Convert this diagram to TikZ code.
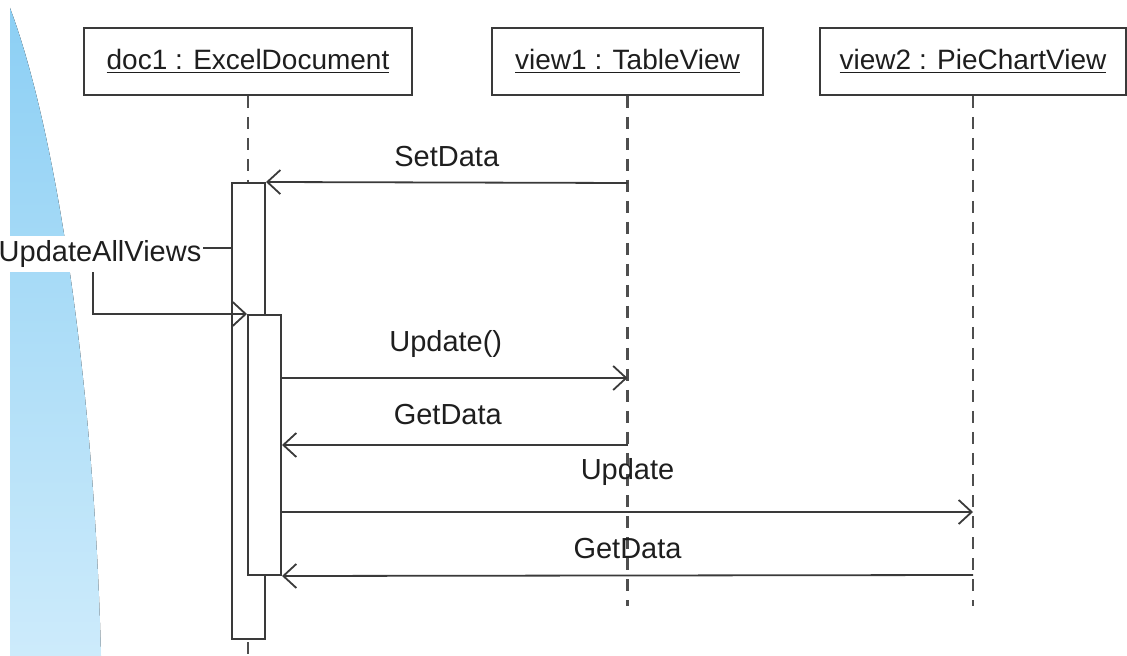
\documentclass[tikz,border=0pt]{standalone}
\usepackage{fontspec}
\setmainfont{Liberation Sans}
\usetikzlibrary{arrows.meta, positioning, calc}
\definecolor{SkyTop}{HTML}{8CCFF4}
\definecolor{SkyBottom}{HTML}{CDEBFB}
\definecolor{LineGray}{HTML}{3A3A3A}
\definecolor{DashGray}{HTML}{4E4E4E}
\definecolor{InkBlack}{HTML}{1E1E1E}

\begin{document}
\begin{tikzpicture}[x=0.5pt, y=-0.5pt, >={Straight Barb[length=6.5pt, width=12pt]},
    font=\fontsize{14.5pt}{17pt}\selectfont,
    objbox/.style={draw=LineGray, line width=1pt, fill=white, text=InkBlack,
        font=\fontsize{14pt}{17pt}\selectfont,
        minimum width=#1, minimum height=33.5pt, inner sep=0pt},
    actbox/.style={draw=LineGray, line width=1pt, fill=white,
        minimum width=16.5pt, minimum height=#1, inner sep=0pt},
    lifeline/.style={draw=DashGray, line width=1.2pt, dash pattern=on 6pt off 4.5pt},
    msg/.style={draw=LineGray, line width=0.9pt, ->},
    msglabel/.style={text=InkBlack, inner sep=1pt}]
    \useasboundingbox (0,0) rectangle (1127,656);

    % Background sweep
    \fill[top color=SkyTop, bottom color=SkyBottom] (10,8) .. controls (56,130) and (94,380) .. (101,656) -- (10,656) -- cycle;

    % Objects
    \node[objbox=164pt] (doc) at (248,61.5) {\underline{doc1 : ExcelDocument}};
    \node[objbox=135.5pt] (view1) at (627.5,61.5) {\underline{view1 : TableView}};
    \node[objbox=153pt] (view2) at (973,61.5) {\underline{view2 : PieChartView}};

    % Lifelines
    \coordinate (docEnd) at (248,656);
    \coordinate (view1End) at (627.5,606);
    \coordinate (view2End) at (973,606);
    \draw[lifeline] (doc.south) -- (docEnd);
    \draw[lifeline] (view1.south) -- (view1End);
    \draw[lifeline] (view2.south) -- (view2End);

    % Activations
    \node[actbox=228pt] (act1) at (248.5,411) {};
    \node[actbox=130pt] (act2) at (264.5,445) {};

    % Message rows
    \coordinate (rowSet) at (0,183);
    \coordinate (rowUpdA) at (0,378);
    \coordinate (rowGetA) at (0,445);
    \coordinate (rowUpdB) at (0,512);
    \coordinate (rowGetB) at (0,575);
    \coordinate (selfCorner) at (93,248);

    % Messages
    \draw[msg] (view1.south |- rowSet) -- (act1.north east) node[msglabel, midway, yshift=13pt]{SetData};
    \draw[msg] (act1.west |- selfCorner) -- (selfCorner) -- (selfCorner |- act2.north) -- (act2.north west);
    \node[msglabel, fill=white, inner xsep=1pt, inner ysep=2pt] (uavLabel) at (100,254) {UpdateAllViews};
    \draw[msg] (act2.east |- rowUpdA) -- (view1.south |- rowUpdA) node[msglabel, midway, xshift=-4.5pt, yshift=17pt]{Update()};
    \draw[msg] (view1.south |- rowGetA) -- (act2.east |- rowGetA) node[msglabel, midway, xshift=-3.5pt, yshift=15pt]{GetData};
    \draw[msg] (act2.east |- rowUpdB) -- (view2.south |- rowUpdB) node[msglabel, midway, yshift=20pt]{Update};
    \draw[msg] (view2.south |- rowGetB) -- (act2.south east) node[msglabel, midway, yshift=13.5pt]{GetData};
\end{tikzpicture}
\end{document}
